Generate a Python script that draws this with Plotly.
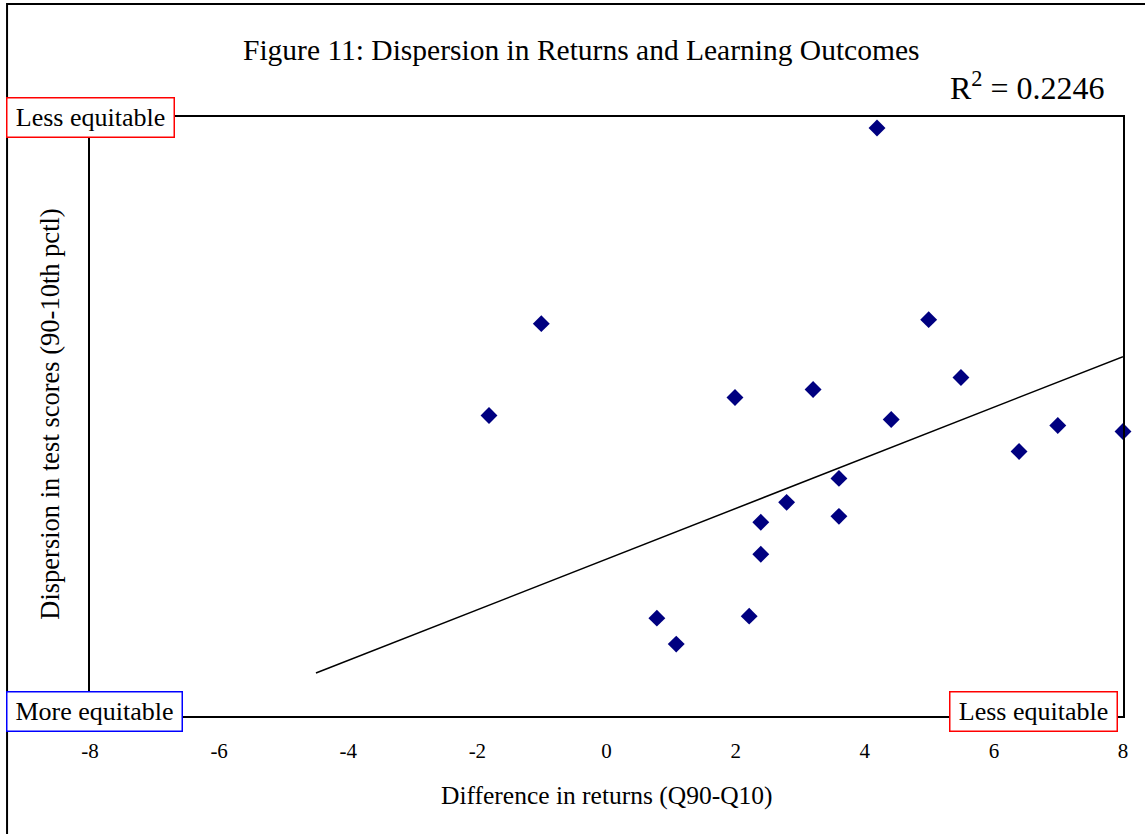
import plotly.graph_objects as go

# difference in returns (Q90-Q10) and dispersion in test scores
returns_gap = [4.19, -1.01, 4.99, -1.82, 1.99, 3.20, 5.49, 4.41, 6.39, 6.99,
               8.00, 3.60, 2.79, 2.39, 3.60, 2.39, 0.78, 2.21, 1.08]
score_gap = [58.9, 39.3, 39.7, 30.1, 31.9, 32.7, 33.9, 29.7, 26.5, 29.1,
             28.5, 23.8, 21.4, 19.4, 20.0, 16.2, 9.8, 10.0, 7.2]

# linear trend as drawn in the original
trend_x = [-4.5, 8.0]
trend_y = [4.3, 36.0]

x_ticks = [-8, -6, -4, -2, 0, 2, 4, 6, 8]
x_tick_labels = ["-8", "-6", "-4", "-2", "0", "2", "4", "6", "8"]

SERIF = "Liberation Serif, Times New Roman, serif"

fig = go.Figure()

fig.add_trace(go.Scatter(
    x=returns_gap, y=score_gap, mode="markers",
    marker=dict(symbol="diamond", size=13, color="#000080"),
    showlegend=False, cliponaxis=False
))

fig.add_trace(go.Scatter(
    x=trend_x, y=trend_y, mode="lines",
    line=dict(color="black", width=1.5),
    showlegend=False
))

fig.update_xaxes(
    range=[-8, 8], tickvals=x_ticks, ticktext=x_tick_labels,
    showgrid=False, zeroline=False,
    showline=True, linecolor="black", linewidth=2, mirror=True,
    ticks="outside", ticklen=15, tickcolor="rgba(0,0,0,0)",
    tickfont=dict(family=SERIF, size=21, color="black")
)
fig.update_yaxes(
    range=[0, 60], showticklabels=False, showgrid=False, zeroline=False,
    showline=True, linecolor="black", linewidth=2, mirror=True, ticks=""
)

# outer frame of the figure
fig.add_shape(type="rect", xref="paper", yref="paper",
              x0=-0.0803, x1=1.1, y0=-0.3, y1=1.1886,
              line=dict(color="black", width=2), layer="below")

annots = [
    dict(text="Figure 11: Dispersion in Returns and Learning Outcomes",
         x=0.475, y=1.1119, font=dict(size=29.5)),
    dict(text="R<sup>2</sup> = 0.2246", x=0.908, y=1.052, font=dict(size=32)),
    dict(text="Difference in returns (Q90-Q10)", x=0.5, y=-0.132, font=dict(size=25.5)),
    dict(text="Dispersion in test scores (90-10th pctl)", x=-0.0387, y=0.503,
         textangle=-90, font=dict(size=26.5)),
]
for a in annots:
    a["font"]["family"] = SERIF
    a["font"]["color"] = "black"
    fig.add_annotation(xref="paper", yref="paper", showarrow=False,
                       xanchor="center", yanchor="middle", **a)

boxes = [
    ("Less equitable", 0.0, 1.0, "red", 164),
    ("More equitable", 0.0048, 0.0067, "blue", 172),
    ("Less equitable", 0.9129, 0.0067, "red", 164),
]
for text, bx, by, col, w in boxes:
    fig.add_annotation(text=text, xref="paper", yref="paper", x=bx, y=by,
                       showarrow=False, xanchor="center", yanchor="middle",
                       width=w, height=36, borderpad=1, borderwidth=1.5,
                       bordercolor=col, bgcolor="white",
                       font=dict(family=SERIF, size=26, color="black"))

fig.update_layout(
    width=1145, height=834,
    margin=dict(l=90, r=22, t=117, b=118),
    paper_bgcolor="white", plot_bgcolor="white"
)

fig.write_html("out.html", config={"displayModeBar": False},
               post_script="document.body.style.margin='0';")
